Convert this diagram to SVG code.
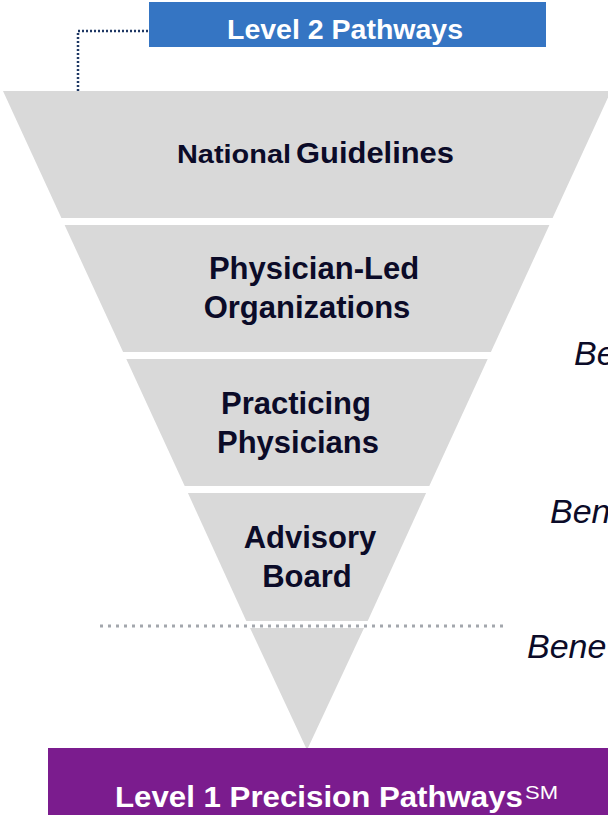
<svg xmlns="http://www.w3.org/2000/svg" width="608" height="815" viewBox="0 0 608 815">
  <style>
    .band { fill: #D9D9D9; }
    .lbl { font-family: "Liberation Sans", Arial, sans-serif; font-weight: bold; font-size: 31px; fill: #0B0B28; text-anchor: middle; }
    .side { font-family: "Liberation Sans", Arial, sans-serif; font-style: italic; font-size: 34px; fill: #0B0B28; }
    .white { font-family: "Liberation Sans", Arial, sans-serif; font-weight: bold; fill: #FFFFFF; }
  </style>
  <rect width="608" height="815" fill="#FFFFFF"/>

  <g id="connectors">
    <polyline points="78,91 78,31 149,31" fill="none" stroke="#1F3864" stroke-width="2.5" stroke-dasharray="2 2"/>
    <line x1="100" y1="626" x2="506" y2="626" stroke="#A3A7AD" stroke-width="3" stroke-dasharray="3 5"/>
  </g>

  <g id="level2">
    <rect x="149" y="2" width="397" height="45" fill="#3575C3"/>
    <text class="white" x="227" y="39" font-size="28.5" textLength="236" lengthAdjust="spacingAndGlyphs">Level 2 Pathways</text>
  </g>

  <g id="national-guidelines">
    <polygon class="band" points="3,91 611,91 552.6,218 61.4,218"/>
    <text x="177" y="163" style="font-family:'Liberation Sans',Arial,sans-serif;font-weight:bold;fill:#0B0B28" font-size="26" textLength="114" lengthAdjust="spacingAndGlyphs">National</text>
    <text x="296" y="163" style="font-family:'Liberation Sans',Arial,sans-serif;font-weight:bold;fill:#0B0B28" font-size="30" textLength="158" lengthAdjust="spacingAndGlyphs">Guidelines</text>
  </g>

  <g id="physician-led">
    <polygon class="band" points="64.6,225 549.4,225 490.9,352 123.1,352"/>
    <text class="lbl" x="314" y="279">Physician-Led</text>
    <text class="lbl" x="307" y="318">Organizations</text>
  </g>

  <g id="practicing">
    <polygon class="band" points="126.3,359 487.7,359 429.3,486 184.7,486"/>
    <text class="lbl" x="296" y="414">Practicing</text>
    <text class="lbl" x="298" y="453">Physicians</text>
  </g>

  <g id="advisory">
    <polygon class="band" points="187.9,493 426.1,493 367.7,621 246.3,621"/>
    <text class="lbl" x="310" y="548">Advisory</text>
    <text class="lbl" x="307" y="587">Board</text>
  </g>

  <g id="tip">
    <polygon class="band" points="250,628 364,628 307,750"/>
  </g>

  <g id="benefits">
    <text class="side" x="574" y="365">Be</text>
    <text class="side" x="550" y="523">Ben</text>
    <text class="side" x="527" y="658">Bene</text>
  </g>

  <g id="level1">
    <rect x="48" y="748" width="580" height="67" fill="#7B1C8E"/>
    <text class="white" x="115" y="807" font-size="30" textLength="408" lengthAdjust="spacingAndGlyphs">Level 1 Precision Pathways</text>
    <text x="525" y="799" style="font-family:'Liberation Sans',Arial,sans-serif;fill:#FFFFFF" font-size="18" textLength="33" lengthAdjust="spacingAndGlyphs">SM</text>
  </g>
</svg>
